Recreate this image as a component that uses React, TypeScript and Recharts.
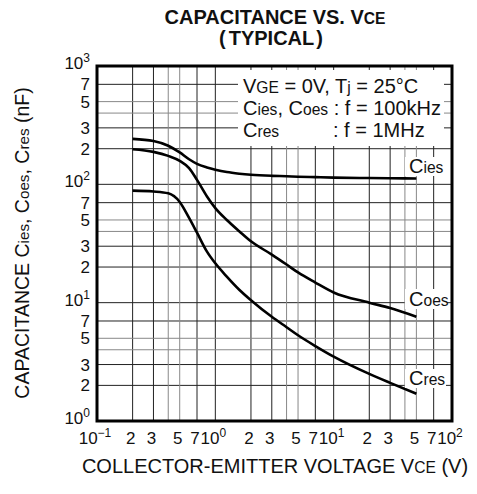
import React from 'react';
import { LineChart, Line, XAxis, YAxis, CartesianGrid, ReferenceArea } from 'recharts';

// Collector-emitter voltage (V)
const voltage = [0.2, 0.3, 0.4, 0.5, 0.6, 0.7, 0.85, 1, 1.25, 1.6, 2, 3, 4, 5, 7, 10, 20, 30, 50];
// Capacitances (nF)
const cies = [242, 232, 212, 186, 163, 149, 139, 133, 127, 123, 120.5, 118, 117, 116, 115, 114, 113, 112.5, 112];
const coes = [198, 188, 174, 158, 137, 109, 79, 63, 50, 40, 33, 25.5, 21, 18, 14.8, 12.2, 10, 9, 7.6];
const cres = [88.5, 87, 84, 71, 52, 39, 27, 21.5, 16.6, 12.8, 10.5, 7.6, 6.2, 5.3, 4.3, 3.5, 2.5, 2.1, 1.7];

const xTicks = [0.1, 0.2, 0.3, 0.4, 0.5, 0.7, 1, 2, 3, 4, 5, 7, 10, 20, 30, 40, 50, 70, 100];
const yTicks = [1, 2, 3, 4, 5, 7, 10, 20, 30, 40, 50, 70, 100, 200, 300, 400, 500, 700, 1000];
const labeledMantissas = [1, 2, 3, 5, 7];
const grayMantissas = [4, 5];

const data = voltage.map((v, i) => ({ v, cies: cies[i], coes: coes[i], cres: cres[i] }));

const FONT = '"Liberation Sans", Arial, Helvetica, sans-serif';

function split(v: number) {
  const e = Math.floor(Math.log10(v) + 1e-9);
  const m = Math.round(v / Math.pow(10, e));
  return { e, m };
}
const expStr = (e: number) => (e < 0 ? '\u2212' + Math.abs(e) : String(e));

const darkX = xTicks.filter((t) => !grayMantissas.includes(split(t).m));
const grayX = xTicks.filter((t) => grayMantissas.includes(split(t).m));
const darkY = yTicks.filter((t) => !grayMantissas.includes(split(t).m));
const grayY = yTicks.filter((t) => grayMantissas.includes(split(t).m));

const XTick = (props: any) => {
  const { x, y, payload } = props;
  const { e, m } = split(payload.value);
  if (!labeledMantissas.includes(m)) return null;
  return (
    <text x={x - 2} y={y + 23} textAnchor="middle" fontFamily={FONT} fontSize={17} fill="#111">
      {m === 1 ? (
        <>
          <tspan>10</tspan>
          <tspan dy={-7} fontSize={12}>{expStr(e)}</tspan>
        </>
      ) : (
        String(m)
      )}
    </text>
  );
};

const YTick = (props: any) => {
  const { x, y, payload } = props;
  const { e, m } = split(payload.value);
  if (!labeledMantissas.includes(m)) return null;
  return (
    <text x={x} y={y + 6} textAnchor="end" fontFamily={FONT} fontSize={17} fill="#111">
      {m === 1 ? (
        <>
          <tspan dy={-3}>10</tspan>
          <tspan dy={-7} fontSize={12}>{expStr(e)}</tspan>
        </>
      ) : (
        String(m)
      )}
    </text>
  );
};

const S = 0.78;

export default function App() {
  return (
    <div style={{ position: 'absolute', left: 0, top: 0, width: 477, height: 494, background: '#fff' }}>
      <LineChart
        width={477}
        height={494}
        data={data}
        margin={{ top: 66, right: 25, bottom: 43, left: 37 }}
      >
        <CartesianGrid stroke="#222" strokeWidth={1} verticalValues={darkX} horizontalValues={darkY} />
        <CartesianGrid stroke="#888" strokeWidth={1} verticalValues={grayX} horizontalValues={grayY} />
        <XAxis
          dataKey="v"
          type="number"
          scale="log"
          domain={[0.1, 100]}
          ticks={xTicks}
          allowDataOverflow
          axisLine={false}
          tickLine={false}
          tickSize={0}
          tickMargin={0}
          height={30}
          interval={0}
          tick={<XTick />}
        />
        <YAxis
          type="number"
          scale="log"
          domain={[1, 1000]}
          ticks={yTicks}
          allowDataOverflow
          axisLine={false}
          tickLine={false}
          tickSize={0}
          tickMargin={7}
          width={60}
          interval={0}
          tick={<YTick />}
        />
        <Line type="monotone" dataKey="cies" stroke="#000" strokeWidth={2.6} dot={false} isAnimationActive={false} />
        <Line type="monotone" dataKey="coes" stroke="#000" strokeWidth={2.6} dot={false} isAnimationActive={false} />
        <Line type="monotone" dataKey="cres" stroke="#000" strokeWidth={2.6} dot={false} isAnimationActive={false} />
        <ReferenceArea x1={0.1} x2={100} y1={1} y2={1000} fill="none" stroke="#000" strokeWidth={3} ifOverflow="visible" />
      </LineChart>
      <svg
        width={477}
        height={494}
        style={{ position: 'absolute', left: 0, top: 0, pointerEvents: 'none' }}
        fontFamily={FONT}
      >
        {/* title */}
        <text x={275} y={24} textAnchor="middle" fontSize={20} fontWeight="bold" fill="#111">
          CAPACITANCE VS. V<tspan fontSize={20 * S}>CE</tspan>
        </text>
        <text x={271} y={45} textAnchor="middle" fontSize={20} fontWeight="bold" fill="#111">
          (<tspan dx={3}>TYPICAL</tspan><tspan dx={2}>)</tspan>
        </text>
        {/* legend box */}
        <rect x={238} y={70} width={206} height={76} fill="#fff" />
        <text x={243} y={93} fontSize={20} fill="#111">
          V<tspan fontSize={20 * S}>GE</tspan> = 0V, T<tspan fontSize={20 * S}>j</tspan> = 25°C
        </text>
        <text x={243} y={115} fontSize={20} fill="#111">
          C<tspan fontSize={20 * S}>ies</tspan>, C<tspan fontSize={20 * S}>oes</tspan> : f = 100kHz
        </text>
        <text x={243} y={137} fontSize={20} fill="#111">
          C<tspan fontSize={20 * S}>res</tspan>
        </text>
        <text x={333} y={137} fontSize={20} fill="#111">
          : f = 1MHz
        </text>
        {/* curve labels */}
        <rect x={405} y={157} width={41} height={19} fill="#fff" />
        <text x={409} y={173} fontSize={20} fill="#111">
          C<tspan fontSize={20 * S}>ies</tspan>
        </text>
        <rect x={405} y={289} width={42} height={20} fill="#fff" />
        <text x={409} y={306} fontSize={20} fill="#111">
          C<tspan fontSize={20 * S}>oes</tspan>
        </text>
        <rect x={405} y={369} width={41} height={19} fill="#fff" />
        <text x={409} y={385} fontSize={20} fill="#111">
          C<tspan fontSize={20 * S}>res</tspan>
        </text>
        {/* y axis title */}
        <text
          transform="translate(29,243) rotate(-90)"
          textAnchor="middle"
          fontSize={19.5}
          fill="#111"
        >
          CAPACITANCE C<tspan fontSize={19.5 * S}>ies</tspan>, C<tspan fontSize={19.5 * S}>oes</tspan>, C
          <tspan fontSize={19.5 * S}>res</tspan> (nF)
        </text>
        {/* x axis title */}
        <text x={275} y={473} textAnchor="middle" fontSize={20} fill="#111">
          COLLECTOR-EMITTER VOLTAGE V<tspan fontSize={20 * S}>CE</tspan> (V)
        </text>
      </svg>
    </div>
  );
}
